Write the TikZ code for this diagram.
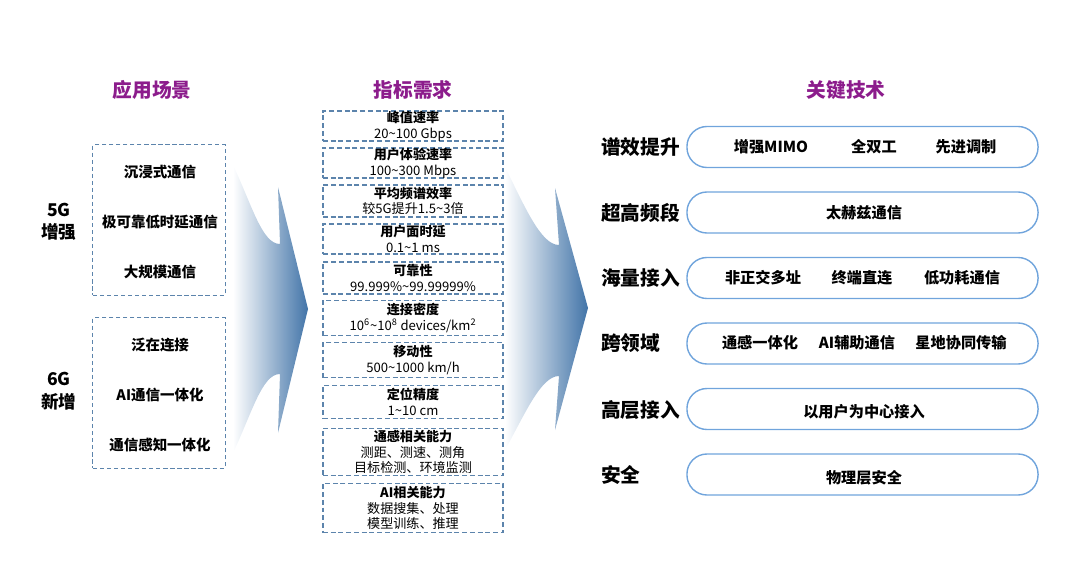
\documentclass[tikz,border=0pt]{standalone}
\usepackage{fontspec}
\setmainfont{Noto Sans CJK SC}
\usetikzlibrary{positioning}
\definecolor{titlepurple}{RGB}{140,28,140}
\definecolor{boxblue}{RGB}{92,132,172}
\definecolor{pillblue}{RGB}{112,164,220}
\definecolor{arrowblue}{RGB}{66,116,168}
\tikzstyle{title}=[font=\fontsize{14}{16}\selectfont\bfseries,text=titlepurple]
\tikzstyle{scenebox}=[draw=boxblue,dash pattern=on 3pt off 2pt,line width=0.7pt,minimum width=3.3cm,minimum height=3.75cm]
\tikzstyle{scene}=[font=\fontsize{10.3}{12}\selectfont\bfseries]
\tikzstyle{gen}=[font=\fontsize{12.5}{16}\selectfont\bfseries,align=center]
\tikzstyle{kpi}=[draw=boxblue,dash pattern=on 3.5pt off 2pt,line width=0.8pt,minimum width=4.5cm,inner sep=0pt,align=center,font=\fontsize{9.3}{11.2}\selectfont]
\tikzstyle{pill}=[draw=pillblue,line width=1pt,rounded corners=0.5cm,minimum width=8.775cm,minimum height=1.025cm]
\tikzstyle{tech}=[font=\fontsize{10.8}{12}\selectfont\bfseries]
\tikzstyle{rowlabel}=[font=\fontsize{14}{16}\selectfont\bfseries,anchor=west,inner sep=0pt]
\tikzstyle{fade}=[left color=white,middle color=arrowblue!45,right color=arrowblue]

\begin{document}
\begin{tikzpicture}[x=0.025cm,y=-0.025cm]
  \useasboundingbox (0,0) rectangle (1080,578);
  % titles
  \node[title] (tscene) at (152,90) {应用场景};
  \node[title] (tkpi) at (413,90) {指标需求};
  \node[title] (ttech) at (846,90) {关键技术};

  % scenarios
  \node[scenebox] (sc5g) at (159,220) {};
  \node[scenebox] (sc6g) at (159,393) {};
  \node[gen] (g5) at (59,222) {5G\\增强};
  \node[gen] (g6) at (59,391) {6G\\新增};
  \node[scene] (s1) at (160,172) {沉浸式通信};
  \node[scene] (s2) at (160,222) {极可靠低时延通信};
  \node[scene] (s3) at (160,272) {大规模通信};
  \node[scene] (s4) at (160,345) {泛在连接};
  \node[scene] (s5) at (160,395) {AI通信一体化};
  \node[scene] (s6) at (160,445) {通信感知一体化};

  % arrows
  \shade[fade] (233,165) .. controls (252,205) and (262,244) .. (280,244)
    -- (278,187) -- (308,309) -- (278,433) -- (280,374) .. controls (262,374) and (252,413) .. (233,453) -- cycle;
  \shade[fade] (505,167) .. controls (525,207) and (541,245) .. (559,245)
    -- (555,188) -- (588,308) -- (555,430) -- (559,376) .. controls (541,376) and (525,414) .. (505,450) -- cycle;

  % requirements
  \node[kpi,minimum height=0.75cm] (k1) at (413,126) {\textbf{峰值速率}\\20\textasciitilde100 Gbps};
  \node[kpi,minimum height=0.75cm] (k2) at (413,163) {\textbf{用户体验速率}\\100\textasciitilde300 Mbps};
  \node[kpi,minimum height=0.8cm] (k3) at (413,201) {\textbf{平均频谱效率}\\较5G提升1.5\textasciitilde3倍};
  \node[kpi,minimum height=0.75cm] (k4) at (413,239) {\textbf{用户面时延}\\0.1\textasciitilde1 ms};
  \node[kpi,minimum height=0.8cm] (k5) at (413,278) {\textbf{可靠性}\\99.999\%\textasciitilde99.99999\%};
  \node[kpi,minimum height=0.875cm] (k6) at (413,318) {\textbf{连接密度}\\10\textsuperscript{6}\textasciitilde10\textsuperscript{8} devices/km\textsuperscript{2}};
  \node[kpi,minimum height=0.875cm] (k7) at (413,360) {\textbf{移动性}\\500\textasciitilde1000 km/h};
  \node[kpi,minimum height=0.825cm] (k8) at (413,402) {\textbf{定位精度}\\1\textasciitilde10 cm};
  \node[kpi,minimum height=1.175cm] (k9) at (413,452) {\textbf{通感相关能力}\\测距、测速、测角\\目标检测、环境监测};
  \node[kpi,minimum height=1.225cm] (k10) at (413,508) {\textbf{AI相关能力}\\数据搜集、处理\\模型训练、推理};

  % key technologies
  \node[pill] (p1) at (862.5,147) {};
  \node[pill] (p2) at (862.5,212.5) {};
  \node[pill] (p3) at (862.5,278) {};
  \node[pill] (p4) at (862.5,343.5) {};
  \node[pill] (p5) at (862.5,409) {};
  \node[pill] (p6) at (862.5,474.5) {};
  \node[rowlabel] (r1) at (601,147) {谱效提升};
  \node[rowlabel] (r2) at (601,213) {超高频段};
  \node[rowlabel] (r3) at (601,278) {海量接入};
  \node[rowlabel] (r4) at (601,343) {跨领域};
  \node[rowlabel] (r5) at (601,410) {高层接入};
  \node[rowlabel] (r6) at (601,475) {安全};
  \node[tech] (t11) at (771,147) {增强MIMO};
  \node[tech] (t12) at (874,147) {全双工};
  \node[tech] (t13) at (966,147) {先进调制};
  \node[tech] (t21) at (864,213) {太赫兹通信};
  \node[tech] (t31) at (763,278) {非正交多址};
  \node[tech] (t32) at (862,278) {终端直连};
  \node[tech] (t33) at (962,278) {低功耗通信};
  \node[tech] (t41) at (760,343) {通感一体化};
  \node[tech] (t42) at (857,343) {AI辅助通信};
  \node[tech] (t43) at (961,343) {星地协同传输};
  \node[tech] (t51) at (864,412) {以用户为中心接入};
  \node[tech] (t61) at (864,478) {物理层安全};
\end{tikzpicture}
\end{document}
